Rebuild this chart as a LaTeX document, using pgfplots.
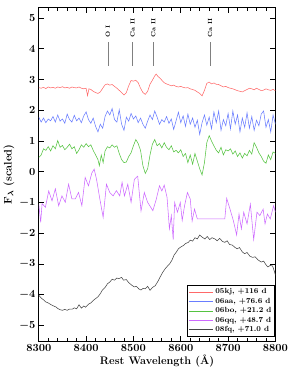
\documentclass[border=0pt]{standalone}
\usepackage{pgfplots}
\pgfplotsset{compat=1.18}
\definecolor{cred}{RGB}{255,105,105}
\definecolor{cblue}{RGB}{105,125,255}
\definecolor{cgreen}{RGB}{85,195,65}
\definecolor{cpurple}{RGB}{205,105,255}
\definecolor{cblack}{RGB}{70,70,70}
\begin{document}
\begin{tikzpicture}
\begin{axis}[
  width=238pt, height=335pt, scale only axis,
  xmin=8300, xmax=8800, ymin=-5.5, ymax=5.33,
  xtick={8300,8400,...,8800}, minor x tick num=4,
  ytick={-5,...,5},
  tick align=inside, major tick length=5pt, minor tick length=2.8pt,
  every tick/.style={line width=0.9pt, black},
  axis line style={line width=1.1pt},
  ticklabel style={font=\boldmath\bfseries\fontsize{10.5}{12}\selectfont},
  xticklabel style={/pgf/number format/1000 sep={}},
  label style={font=\bfseries\fontsize{11}{13}\selectfont},
  xlabel={Rest Wavelength (\AA)},
  ylabel={F{\boldmath$_\lambda$} (scaled)},
  xlabel style={yshift=3pt},
  ylabel style={yshift=-2pt},
  legend style={at={(rel axis cs:1,0.012)}, anchor=south east, draw=black, line width=1pt,
    font=\bfseries\fontsize{7.5}{8.7}\selectfont, inner sep=1.5pt, row sep=-1.2pt,
    cells={anchor=west}},
  legend image code/.code={\draw[#1, line width=0.6pt] (0cm,0cm) -- (0.85cm,0cm);},
  every axis plot/.append style={line width=0.55pt},
]
\addplot[cred] coordinates {
(8300,2.74)(8305,2.72)(8310,2.75)(8315,2.71)(8320,2.76)(8325,2.73)(8330,2.75)(8335,2.72)(8340,2.76)(8345,2.74)
(8350,2.77)(8355,2.73)(8360,2.75)(8365,2.72)(8370,2.76)(8375,2.74)(8380,2.73)(8385,2.76)(8390,2.72)(8395,2.70)
(8400,2.72)(8403,2.48)(8406,2.70)(8410,2.68)(8415,2.62)(8420,2.58)(8425,2.55)(8430,2.60)(8435,2.72)(8440,2.83)
(8445,2.86)(8450,2.82)(8455,2.84)(8460,2.78)(8465,2.72)(8470,2.65)(8475,2.58)(8480,2.50)(8485,2.58)(8490,2.80)
(8495,2.97)(8500,2.95)(8505,2.98)(8510,2.90)(8515,2.72)(8520,2.58)(8525,2.52)(8530,2.62)(8535,2.85)(8540,2.98)
(8545,3.12)(8548,3.18)(8552,3.10)(8556,3.05)(8560,2.98)(8565,2.90)(8570,2.86)(8575,2.83)(8580,2.80)(8585,2.82)
(8590,2.78)(8595,2.76)(8600,2.78)(8605,2.75)(8610,2.73)(8615,2.74)(8620,2.70)(8625,2.68)(8630,2.65)(8635,2.60)
(8640,2.55)(8645,2.47)(8650,2.65)(8655,2.88)(8660,2.92)(8665,2.86)(8670,2.89)(8675,2.85)(8680,2.84)(8685,2.80)
(8690,2.76)(8695,2.78)(8700,2.74)(8705,2.72)(8710,2.70)(8715,2.67)(8720,2.64)(8725,2.62)(8730,2.60)(8735,2.64)
(8740,2.68)(8745,2.72)(8750,2.70)(8755,2.67)(8760,2.72)(8765,2.68)(8770,2.64)(8775,2.66)(8780,2.70)(8785,2.67)
(8790,2.65)(8795,2.68)(8800,2.64)};
\addlegendentry{05kj, +116 d}
\addplot[cblue] coordinates {
(8300,1.78)(8305,1.62)(8310,1.75)(8315,1.60)(8320,1.72)(8325,1.66)(8330,1.80)(8335,1.62)(8340,1.85)(8345,1.65)
(8350,1.72)(8355,1.58)(8360,1.88)(8365,1.70)(8370,1.62)(8375,1.84)(8380,1.66)(8385,1.75)(8390,1.60)(8395,1.82)
(8400,1.95)(8405,1.70)(8410,1.58)(8415,1.75)(8420,1.48)(8425,1.30)(8430,1.55)(8435,1.42)(8440,1.80)(8445,1.98)
(8450,1.85)(8455,2.06)(8460,1.70)(8465,1.62)(8470,2.02)(8475,1.55)(8480,1.35)(8485,1.78)(8490,1.65)(8495,1.90)
(8500,1.72)(8505,1.82)(8510,1.60)(8515,1.75)(8520,1.55)(8525,1.42)(8530,1.65)(8535,1.85)(8540,1.70)(8545,1.98)
(8550,1.78)(8555,1.55)(8560,1.70)(8565,1.62)(8570,1.80)(8575,1.58)(8580,1.72)(8585,1.38)(8590,1.66)(8595,1.94)
(8600,1.60)(8605,1.82)(8610,1.48)(8615,1.88)(8620,1.55)(8625,1.75)(8630,1.45)(8635,1.68)(8640,1.22)(8645,1.60)
(8650,1.85)(8655,1.52)(8660,1.78)(8665,1.40)(8670,1.95)(8675,1.60)(8680,1.98)(8685,1.35)(8690,1.70)(8695,1.50)
(8700,1.90)(8705,1.40)(8710,1.98)(8715,1.55)(8720,1.85)(8725,1.30)(8730,1.75)(8735,1.45)(8740,1.92)(8745,1.42)
(8750,1.80)(8755,1.35)(8760,1.68)(8765,1.50)(8770,1.88)(8775,1.98)(8780,1.45)(8785,1.70)(8790,1.30)(8795,1.85)
(8800,1.55)};
\addlegendentry{06aa, +76.6 d}
\addplot[cgreen] coordinates {
(8300,0.47)(8305,0.55)(8310,0.75)(8315,0.70)(8320,0.82)(8325,0.68)(8330,0.85)(8335,0.75)(8340,1.02)(8345,0.80)
(8350,0.86)(8355,0.72)(8360,0.80)(8365,0.90)(8370,0.75)(8375,0.82)(8380,0.60)(8385,0.72)(8390,0.88)(8395,0.80)
(8400,0.92)(8405,0.82)(8410,0.88)(8415,0.70)(8420,0.55)(8425,0.40)(8428,0.20)(8432,0.55)(8436,0.30)(8440,0.68)
(8445,0.82)(8450,0.78)(8455,0.88)(8460,0.80)(8465,0.85)(8470,0.60)(8475,0.40)(8480,0.30)(8485,0.32)(8490,0.50)
(8495,0.62)(8500,0.85)(8505,1.05)(8510,0.92)(8515,0.70)(8520,0.20)(8525,-0.05)(8530,0.10)(8535,0.55)(8540,0.90)
(8545,1.05)(8550,0.85)(8555,0.92)(8560,0.78)(8565,0.95)(8570,0.80)(8575,0.72)(8580,0.85)(8585,0.65)(8590,0.70)
(8595,0.62)(8600,0.72)(8605,0.50)(8610,0.60)(8615,0.30)(8620,0.55)(8625,0.25)(8630,0.60)(8635,0.35)(8640,0.10)
(8645,-0.10)(8650,0.30)(8655,0.95)(8660,1.18)(8665,1.00)(8670,0.85)(8675,0.70)(8680,0.62)(8685,0.80)(8690,0.55)
(8695,0.72)(8700,0.68)(8705,0.75)(8710,0.58)(8715,0.68)(8720,0.50)(8725,0.62)(8730,0.45)(8735,0.60)(8740,0.52)
(8745,0.70)(8750,0.58)(8755,0.95)(8760,0.80)(8765,0.62)(8770,0.50)(8775,0.35)(8780,0.28)(8785,0.55)(8790,0.40)
(8795,0.65)(8800,0.60)};
\addlegendentry{06bo, +21.2 d}
\addplot[cpurple] coordinates {
(8300,-1.05)(8304,-1.64)(8307,-1.03)(8314,-1.15)(8321,-0.62)(8328,-0.94)(8335,-0.55)(8342,-1.10)(8349,-0.78)
(8356,-0.99)(8363,-0.40)(8370,-0.88)(8377,-0.88)(8384,-0.67)(8391,-1.10)(8398,-0.18)(8405,-0.45)(8412,-0.04)
(8417,0.09)(8422,-0.24)(8429,-0.88)(8436,-1.48)(8443,-0.40)(8450,-0.67)(8457,-0.78)(8464,-0.61)(8471,-0.78)
(8476,-0.34)(8481,-0.78)(8488,-0.40)(8495,-0.99)(8502,-0.24)(8509,-0.14)(8516,-1.27)(8523,-0.67)(8530,-0.99)
(8541,-1.26)(8548,-0.90)(8555,-0.45)(8560,-0.62)(8565,-0.43)(8571,-0.83)(8576,-1.85)(8580,-1.42)(8584,-2.20)
(8587,-0.99)(8593,-1.31)(8599,-0.99)(8603,-1.58)(8608,-1.10)(8614,-0.67)(8620,-0.88)(8624,-1.60)(8629,-1.21)
(8635,-1.53)(8693,-1.53)(8697,-0.86)(8704,-1.21)(8711,-1.58)(8718,-2.05)(8723,-1.37)(8728,-1.85)(8733,-1.31)
(8740,-1.69)(8747,-1.05)(8754,-2.20)(8761,-1.31)(8767,-1.42)(8774,-1.21)(8778,-1.69)(8783,-1.37)(8789,-1.53)
(8796,-1.10)(8800,-1.31)};
\addlegendentry{06qq, +48.7 d}
\addplot[cblack] coordinates {
(8300,-4.01)(8305,-4.10)(8310,-4.16)(8315,-4.23)(8320,-4.26)(8325,-4.31)(8330,-4.35)(8336,-4.39)(8340,-4.44)
(8345,-4.48)(8350,-4.50)(8355,-4.47)(8360,-4.50)(8365,-4.46)(8371,-4.46)(8375,-4.42)(8380,-4.45)(8385,-4.32)
(8390,-4.43)(8395,-4.36)(8399,-4.40)(8405,-4.30)(8410,-4.26)(8415,-4.18)(8420,-4.12)(8425,-4.06)(8430,-3.96)
(8434,-3.85)(8440,-3.76)(8445,-3.64)(8450,-3.58)(8455,-3.49)(8460,-3.52)(8465,-3.45)(8469,-3.47)(8475,-3.43)
(8479,-3.52)(8485,-3.50)(8490,-3.60)(8497,-3.69)(8502,-3.74)(8506,-3.72)(8511,-3.80)(8516,-3.84)(8520,-3.79)
(8525,-3.80)(8530,-3.72)(8535,-3.85)(8540,-3.76)(8546,-3.70)(8552,-3.55)(8557,-3.40)(8562,-3.26)(8567,-3.15)
(8572,-3.06)(8576,-3.00)(8581,-2.88)(8586,-2.70)(8590,-2.62)(8595,-2.50)(8600,-2.44)(8605,-2.40)(8610,-2.33)
(8616,-2.29)(8620,-2.22)(8625,-2.25)(8630,-2.14)(8635,-2.18)(8640,-2.05)(8645,-2.12)(8651,-2.18)(8656,-2.10)
(8661,-2.20)(8666,-2.14)(8672,-2.18)(8677,-2.24)(8682,-2.16)(8688,-2.26)(8693,-2.29)(8698,-2.24)(8703,-2.36)
(8709,-2.38)(8714,-2.45)(8719,-2.50)(8724,-2.46)(8730,-2.60)(8735,-2.66)(8740,-2.62)(8746,-2.74)(8752,-2.78)
(8757,-2.76)(8763,-2.86)(8770,-2.93)(8775,-2.90)(8780,-3.02)(8784,-3.09)(8789,-3.04)(8794,-3.06)(8798,-3.25)
(8800,-3.36)};
\addlegendentry{08fq, +71.0 d}
\addplot[gray, line width=0.5pt, forget plot] coordinates {(8446,3.45) (8446,4.22)};
\addplot[gray, line width=0.5pt, forget plot] coordinates {(8498,3.45) (8498,4.22)};
\addplot[gray, line width=0.5pt, forget plot] coordinates {(8542,3.45) (8542,4.22)};
\addplot[gray, line width=0.5pt, forget plot] coordinates {(8662,3.45) (8662,4.22)};
\node[rotate=90, anchor=west, inner sep=1pt, font=\bfseries\fontsize{6}{7}\selectfont] at (axis cs:8446,4.33) {O I};
\node[rotate=90, anchor=west, inner sep=1pt, font=\bfseries\fontsize{6}{7}\selectfont] at (axis cs:8498,4.33) {Ca II};
\node[rotate=90, anchor=west, inner sep=1pt, font=\bfseries\fontsize{6}{7}\selectfont] at (axis cs:8542,4.33) {Ca II};
\node[rotate=90, anchor=west, inner sep=1pt, font=\bfseries\fontsize{6}{7}\selectfont] at (axis cs:8662,4.33) {Ca II};
\end{axis}
\path ([shift={(-39pt,-28pt)}]current axis.south west) rectangle ([shift={(17pt,8pt)}]current axis.north east);
\end{tikzpicture}
\end{document}
